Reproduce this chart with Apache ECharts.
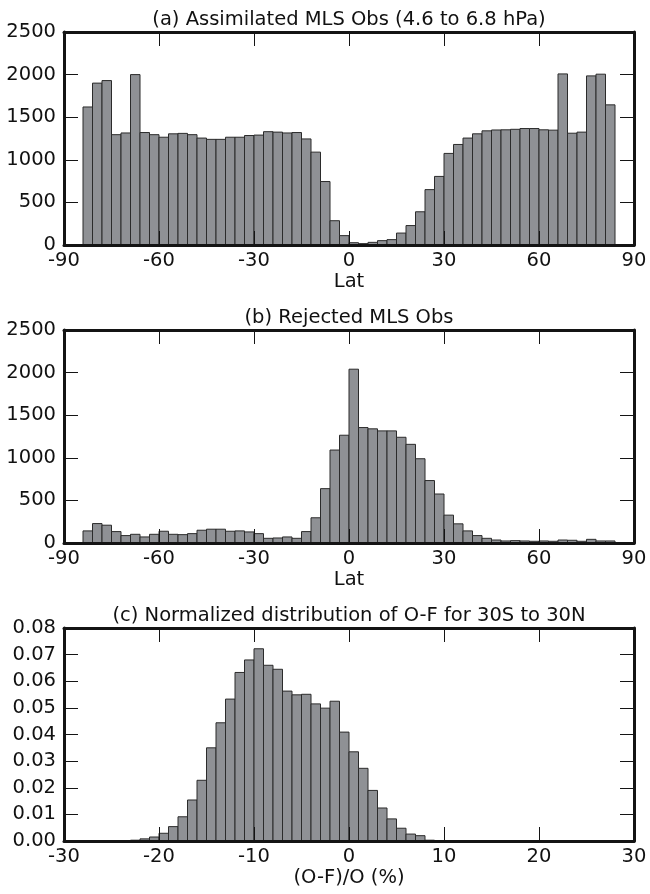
<!DOCTYPE html>
<html>
<head>
<meta charset="utf-8">
<script src="https://cdn.jsdelivr.net/npm/echarts@6/dist/echarts.min.js"></script>
<style>
html,body{margin:0;padding:0;background:#fff;}
#chart{width:650px;height:894px;}
</style>
</head>
<body>
<div id="chart"></div>
<script>
// ---- data ----
const latBinStart = [-84,-81,-78,-75,-72,-69,-66,-63,-60,-57,-54,-51,-48,-45,-42,-39,-36,-33,-30,-27,-24,-21,-18,-15,-12,-9,-6,-3,
  0,3,6,9,12,15,18,21,24,27,30,33,36,39,42,45,48,51,54,57,60,63,66,69,72,75,78,81];
const latBinWidth = 3;
const assimilatedCounts = [1620,1900,1930,1295,1315,2000,1320,1295,1265,1305,1310,1295,1255,1240,1240,1265,1265,1285,1290,1330,1325,1315,1320,1245,1090,745,285,110,
  27,16,31,51,63,140,228,390,650,805,1075,1180,1255,1305,1340,1350,1352,1358,1367,1367,1352,1348,2008,1312,1325,1985,2005,1645];
const rejectedCounts = [142,228,209,134,87,102,71,102,138,102,98,110,150,162,162,138,142,130,110,55,59,71,55,134,296,638,1091,1265,
  2040,1355,1340,1316,1316,1241,1158,989,733,575,327,225,142,87,55,35,24,28,24,20,24,20,35,32,20,43,24,24];
const ofBinStart = [-23,-22,-21,-20,-19,-18,-17,-16,-15,-14,-13,-12,-11,-10,-9,-8,-7,-6,-5,-4,-3,-2,-1,0,1,2,3,4,5,6,7,8];
const ofBinWidth = 1;
const ofFrequency = [0.0003,0.0008,0.0015,0.0029,0.0054,0.0091,0.0154,0.0228,0.035,0.0444,0.0533,0.0633,0.068,0.0722,0.066,0.0645,0.0563,0.0549,0.0551,0.0515,0.0499,0.0525,0.0409,0.0335,0.0273,0.019,0.0124,0.0083,0.0048,0.0026,0.002,0.0003];

const titles = ['(a) Assimilated MLS Obs (4.6 to 6.8 hPa)', '(b) Rejected MLS Obs', '(c) Normalized distribution of O-F for 30S to 30N'];
const xNames = ['Lat', 'Lat', '(O-F)/O (%)'];

// ---- styles ----
const FONT = 'DejaVu Sans';
const FS = 19.5;
const TXT = '#111111';
const BAR = '#8f9195';
const EDGE = '#2b2b2b';
const FRAME = '#141414';

function hist(starts, width, vals) {
  return starts.map((s, i) => [s, s + width, vals[i]]);
}

const grids = [
  {left: 64, top: 32, width: 570, height: 213},
  {left: 64, top: 330, width: 570, height: 213},
  {left: 64, top: 628, width: 570, height: 213}
];
const xRanges = [[-90, 90, 30], [-90, 90, 30], [-30, 30, 10]];
const yRanges = [[0, 2500, 500], [0, 2500, 500], [0, 0.08, 0.01]];
const dataSets = [
  hist(latBinStart, latBinWidth, assimilatedCounts),
  hist(latBinStart, latBinWidth, rejectedCounts),
  hist(ofBinStart, ofBinWidth, ofFrequency)
];

const xAxis = [], yAxis = [], series = [];
const lineStyle = {color: FRAME, width: 3};
const tickStyle = {show: true, inside: true, length: 14, lineStyle: {color: FRAME, width: 1}};

grids.forEach((g, i) => {
  const [xmin, xmax, xint] = xRanges[i];
  const [ymin, ymax, yint] = yRanges[i];
  xAxis.push({
    type: 'value', gridIndex: i, position: 'bottom', min: xmin, max: xmax, interval: xint, z: 10,
    axisLine: {show: true, onZero: false, lineStyle},
    axisTick: tickStyle,
    splitLine: {show: false},
    axisLabel: {show: true, margin: 6, color: TXT, fontFamily: FONT, fontSize: FS, showMinLabel: true, showMaxLabel: true},
    name: xNames[i], nameLocation: 'middle', nameGap: i === 2 ? 25 : 23,
    nameTextStyle: {color: TXT, fontFamily: FONT, fontSize: FS}
  });
  xAxis.push({
    type: 'value', gridIndex: i, position: 'top', min: xmin, max: xmax, interval: xint, z: 10,
    axisLine: {show: true, onZero: false, lineStyle},
    axisTick: tickStyle,
    splitLine: {show: false},
    axisLabel: {show: false},
    name: titles[i], nameLocation: 'middle', nameGap: 2,
    nameTextStyle: {color: TXT, fontFamily: FONT, fontSize: FS, verticalAlign: 'bottom'}
  });
  yAxis.push({
    type: 'value', gridIndex: i, position: 'left', min: ymin, max: ymax, interval: yint, z: 10,
    axisLine: {show: true, onZero: false, lineStyle},
    axisTick: tickStyle,
    splitLine: {show: false},
    axisLabel: {show: true, margin: 8, color: TXT, fontFamily: FONT, fontSize: FS,
      formatter: i === 2 ? (v => v.toFixed(2)) : (v => String(v))}
  });
  yAxis.push({
    type: 'value', gridIndex: i, position: 'right', min: ymin, max: ymax, interval: yint, z: 10,
    axisLine: {show: true, onZero: false, lineStyle},
    axisTick: tickStyle,
    splitLine: {show: false},
    axisLabel: {show: false}
  });
  series.push({
    type: 'custom',
    xAxisIndex: i * 2, yAxisIndex: i * 2,
    data: dataSets[i],
    z: 2,
    renderItem: function (params, api) {
      const p0 = api.coord([api.value(0), 0]);
      const p1 = api.coord([api.value(1), api.value(2)]);
      return {
        type: 'rect',
        shape: {x: p0[0], y: p1[1], width: p1[0] - p0[0], height: p0[1] - p1[1]},
        style: {fill: BAR, stroke: EDGE, lineWidth: 1}
      };
    },
    silent: true
  });
});

const chart = echarts.init(document.getElementById('chart'), null, {renderer: 'canvas'});
chart.setOption({
  animation: false,
  backgroundColor: '#fff',
  grid: grids.map(g => Object.assign({containLabel: false}, g)),
  xAxis, yAxis, series
});
</script>
</body>
</html>
